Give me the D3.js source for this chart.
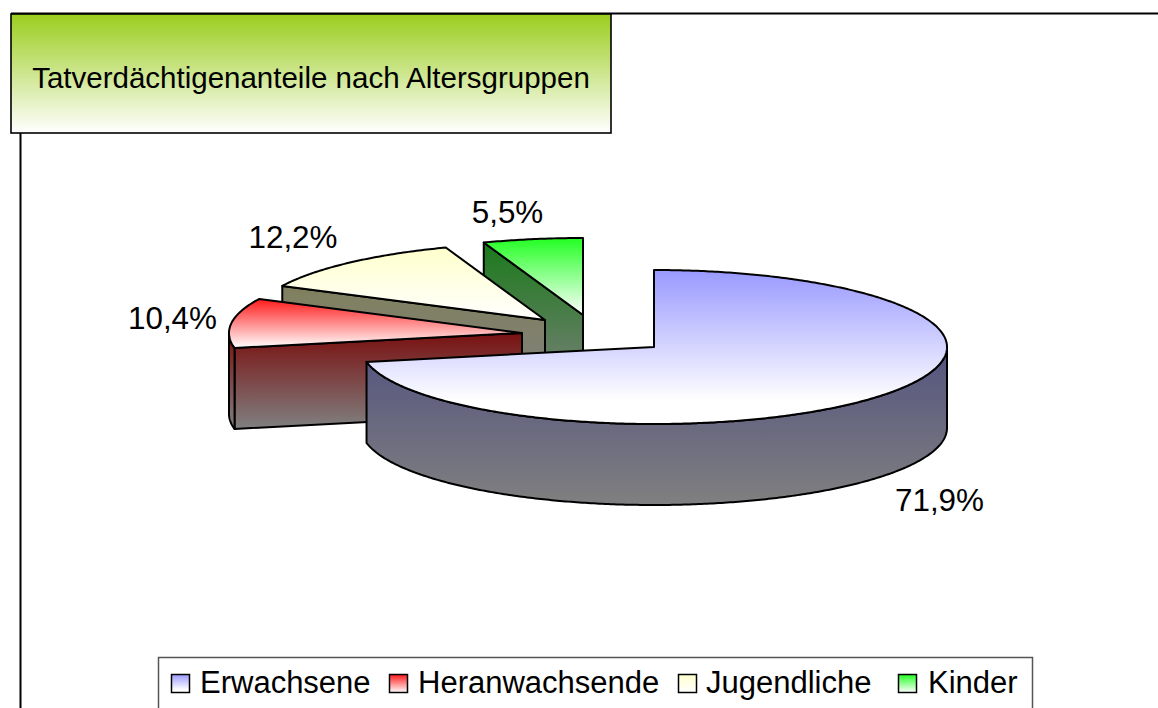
<!DOCTYPE html>
<html><head><meta charset="utf-8">
<script src="https://cdn.jsdelivr.net/npm/d3@7"></script>
<style>html,body{margin:0;padding:0;background:#fff}svg{display:block}text{font-family:"Liberation Sans",Arial,sans-serif;fill:#000}</style>
</head><body><svg id="c" width="1158" height="708"></svg>
<script>
const titleText = "Tatverdächtigenanteile nach Altersgruppen";
const categories = ["Erwachsene", "Heranwachsende", "Jugendliche", "Kinder"];
const values = [71.9, 10.4, 12.2, 5.5];
const labels = ["71,9%", "10,4%", "12,2%", "5,5%"];
const topColors = ["#9999ff", "#ff1a1a", "#ffffcc", "#22ff22"];
const wallColors = ["#53537f", "#7a1010", "#80805f", "#1a7a1a"];

const W = 1158, H = 708;
const svg = d3.select("#c");
const defs = svg.append("defs");
function grad(id, a, b, stop) {
  const g = defs.append("linearGradient").attr("id", id).attr("x1", 0).attr("y1", 0).attr("x2", 0).attr("y2", 1);
  g.append("stop").attr("offset", 0).attr("stop-color", a);
  g.append("stop").attr("offset", stop || 1).attr("stop-color", b);
}
grad("gTitle", "#9bcd1e", "#ffffff");
categories.forEach((c, i) => {
  grad("top" + i, topColors[i], "#ffffff", i === 0 ? 0.85 : 1);
  grad("wall" + i, wallColors[i], "#808080");
});

// frame
svg.append("line").attr("x1", 20.5).attr("x2", 20.5).attr("y1", 13).attr("y2", H).attr("stroke", "#000").attr("stroke-width", 2);
svg.append("line").attr("x1", 11).attr("x2", W).attr("y1", 13.5).attr("y2", 13.5).attr("stroke", "#000").attr("stroke-width", 2);

// title
svg.append("rect").attr("x", 11).attr("y", 14).attr("width", 600).attr("height", 119)
  .attr("fill", "url(#gTitle)").attr("stroke", "#000").attr("stroke-width", 1.6);
svg.append("text").attr("x", 311).attr("y", 88).attr("text-anchor", "middle").attr("font-size", 29.5).text(titleText);

// pie geometry
const cx = 654, cy = 347, rx = 293, ry = 77, depth = 81;
const sx = d3.scaleLinear().domain([-1, 1]).range([-rx, rx]);
const sy = d3.scaleLinear().domain([-1, 1]).range([ry, -ry]);
const offsets = [[0, 0], [-132, -14], [-109, -27], [-71, -32]];
const pie = d3.pie().sort(null).value(d => d).startAngle(0).endAngle(2 * Math.PI);
const arcs = pie(values);
const pt = (a, o, dy) => [cx + o[0] + sx(Math.sin(a)), cy + o[1] + sy(Math.cos(a)) + (dy || 0)];
const centre = (o, dy) => [cx + o[0], cy + o[1] + (dy || 0)];
function rim(a0, a1, o, dy) {
  const n = Math.max(2, Math.ceil(Math.abs(a1 - a0) / 0.01));
  return d3.range(n + 1).map(k => pt(a0 + (a1 - a0) * k / n, o, dy));
}
const line = d3.line();
const order = [3, 2, 1, 0];
const G = svg.append("g").attr("stroke", "#000").attr("stroke-width", 2).attr("stroke-linejoin", "round");
order.forEach(i => {
  const s = arcs[i], o = offsets[i];
  const g = G.append("g");
  if (i === 0) {
    const a0 = Math.PI / 2, a1 = s.endAngle;
    const pts = rim(a0, a1, o, 0).concat(rim(a1, a0, o, depth));
    g.append("path").attr("d", line(pts) + "Z").attr("fill", "url(#wall0)");
  } else {
    const p = pt(s.startAngle, o, 0);
    const pts = [p, centre(o, 0), centre(o, depth), pt(s.startAngle, o, depth)];
    g.append("path").attr("d", line(pts) + "Z").attr("fill", `url(#wall${i})`);
    if (i === 1) {
      const a = 1.5 * Math.PI;
      const r = rim(s.startAngle, a, o, 0).concat(rim(a, s.startAngle, o, depth));
      g.append("path").attr("d", line(r) + "Z").attr("fill", "url(#wall1)");
    }
  }
  const top = [centre(o, 0)].concat(rim(s.startAngle, s.endAngle, o, 0));
  g.append("path").attr("d", line(top) + "Z").attr("fill", `url(#top${i})`);
});

// data labels
const labelPos = [[939.5, 511], [172.5, 329], [293, 248], [507.5, 223]];
labels.forEach((t, i) => {
  svg.append("text").attr("x", labelPos[i][0]).attr("y", labelPos[i][1]).attr("text-anchor", "middle")
    .attr("font-size", 31.4).text(t);
});

// legend
svg.append("rect").attr("x", 158.5).attr("y", 657.5).attr("width", 874).attr("height", 60)
  .attr("fill", "#fff").attr("stroke", "#555").attr("stroke-width", 1.5);
const swatchX = [171, 389, 678, 898];
const textX = [200, 418, 706, 928];
categories.forEach((c, i) => {
  svg.append("rect").attr("x", swatchX[i] + .5).attr("y", 674.5).attr("width", 18).attr("height", 18)
    .attr("fill", `url(#top${i})`).attr("stroke", "#000").attr("stroke-width", 1.5);
  svg.append("text").attr("x", textX[i]).attr("y", 693).attr("font-size", 31).text(c);
});
</script></body></html>
